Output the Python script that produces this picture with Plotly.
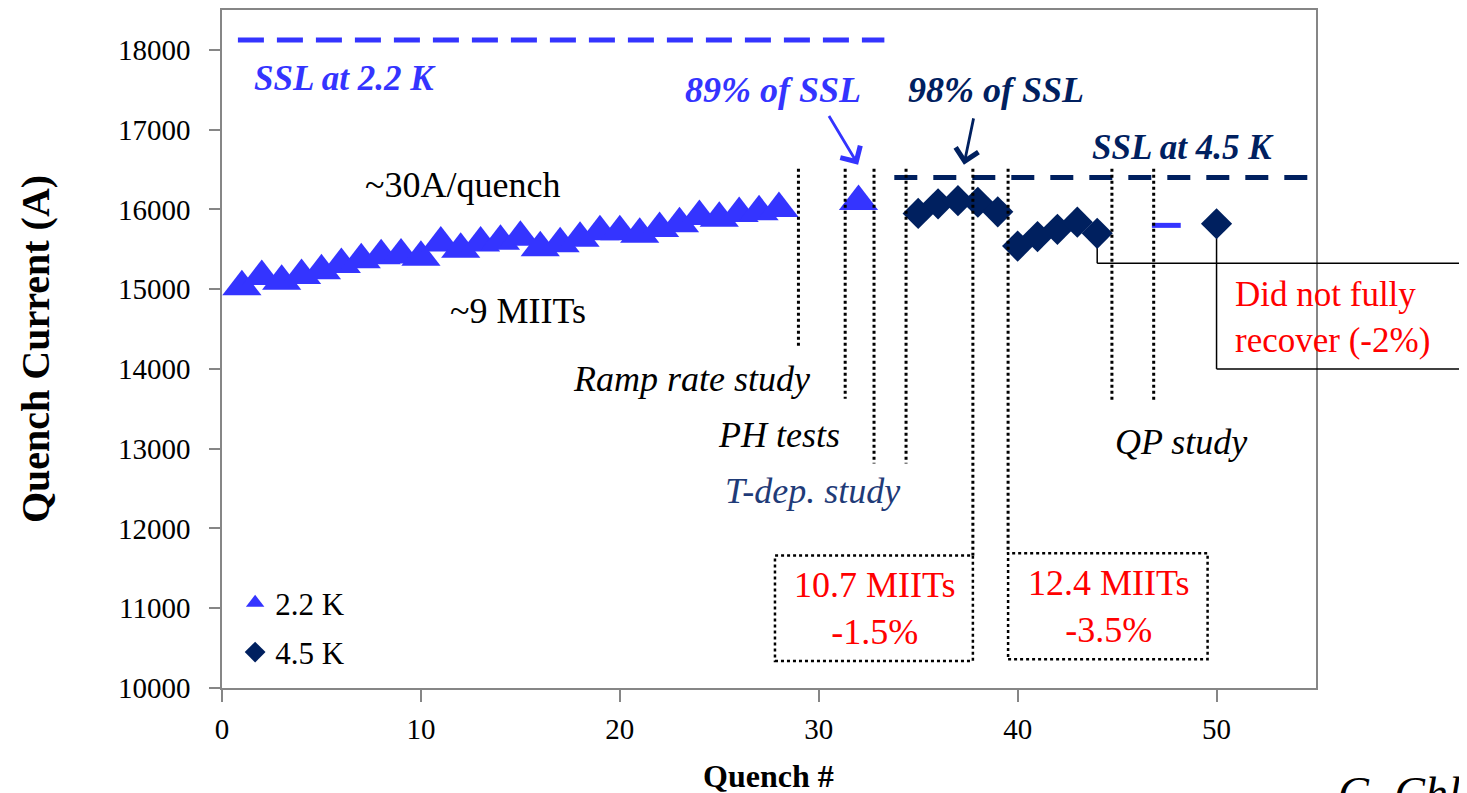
import plotly.graph_objects as go

# ---------------- data ----------------
quench_22 = list(range(1, 29)) + [32]
current_22 = [15030, 15160, 15100, 15170, 15230, 15310, 15370, 15420, 15430, 15400,
              15580, 15500, 15580, 15600, 15650, 15520, 15570, 15640, 15720, 15720,
              15690, 15760, 15820, 15910, 15890, 15950, 15970, 16010, 16100]

quench_45 = [35, 36, 37, 38, 39, 40, 41, 42, 43, 44, 50]
current_45 = [15950, 16070, 16110, 16090, 15970, 15540, 15660, 15750, 15840, 15700, 15820]

dash_x = [46.75, 48.2]
dash_y = [15800, 15800]

ssl_22 = 18125
ssl_22_x = [0.8, 33.3]
ssl_45 = 16400
ssl_45_x = [33.8, 55]

boundary_x = [28.98, 31.33, 32.78, 34.39, 37.75, 39.52, 44.74, 46.84]
boundary_top = 16510
boundary_bottom = [14260, 13625, 12815, 12815, 11660, 11690, 13600, 13600]

x_ticks = [0, 10, 20, 30, 40, 50]
y_ticks = [10000, 11000, 12000, 13000, 14000, 15000, 16000, 17000, 18000]

BLUE = "#3434FF"
NAVY = "#00205F"
TNAVY = "#1F3B78"
RED = "#FF0000"
FONT = "Liberation Serif"

XR = [0, 55]
YR = [10000, 18500]

# page-pixel helpers (the page has an 8px body margin)
PL, PR, PT, PB = 222, 1316, 8, 688


def px(x):
    return (x - XR[0]) / (XR[1] - XR[0])


def ppx(page_x):
    return (page_x - PL) / (PR - PL)


def ppy(page_y):
    return (PB - page_y) / (PB - PT)


fig = go.Figure()

fig.add_trace(go.Scatter(x=ssl_22_x, y=[ssl_22, ssl_22], mode="lines",
                         line=dict(color=BLUE, width=5, dash="26px,13px"),
                         showlegend=False, hoverinfo="skip"))
fig.add_trace(go.Scatter(x=ssl_45_x, y=[ssl_45, ssl_45], mode="lines",
                         line=dict(color=NAVY, width=5, dash="23px,16px"),
                         showlegend=False, hoverinfo="skip"))
fig.add_trace(go.Scatter(x=dash_x, y=dash_y, mode="lines",
                         line=dict(color=BLUE, width=5),
                         showlegend=False, hoverinfo="skip"))

fig.add_trace(go.Scatter(x=quench_22, y=current_22, mode="markers", name="2.2 K",
                         legendgroup="a",
                         marker=dict(symbol="triangle-up", size=34, color=BLUE)))
fig.add_trace(go.Scatter(x=quench_45, y=current_45, mode="markers", name="4.5 K",
                         legendgroup="b",
                         marker=dict(symbol="diamond", size=24, color=NAVY)))

shapes = []
for bx, bb in zip(boundary_x, boundary_bottom):
    shapes.append(dict(type="line", xref="x", yref="y", x0=bx, x1=bx,
                       y0=boundary_top, y1=bb,
                       line=dict(color="black", width=3, dash="dot")))

# dotted boxes
shapes.append(dict(type="rect", xref="x", yref="y", x0=27.8, x1=37.75, y0=10340, y1=11660,
                   line=dict(color="black", width=2.5, dash="dot")))
shapes.append(dict(type="rect", xref="x", yref="y", x0=39.52, x1=49.55, y0=10360, y1=11690,
                   line=dict(color="black", width=2.5, dash="dot")))

# callout for "Did not fully recover"
box_top = 15325
box_bot = 14000
shapes.append(dict(type="line", xref="x", yref="y", x0=44, x1=44, y0=current_45[9], y1=box_top,
                   line=dict(color="black", width=1.5), layer="below"))
shapes.append(dict(type="line", xref="x", yref="y", x0=50, x1=50, y0=current_45[10], y1=box_top,
                   line=dict(color="black", width=1.5), layer="below"))
shapes.append(dict(type="line", xref="paper", yref="y", x0=px(44), x1=1.2, y0=box_top, y1=box_top,
                   line=dict(color="black", width=1.5)))
shapes.append(dict(type="line", xref="paper", yref="y", x0=px(50), x1=px(50), y0=box_top, y1=box_bot,
                   line=dict(color="black", width=1.5)))
shapes.append(dict(type="line", xref="paper", yref="y", x0=px(50), x1=1.2, y0=box_bot, y1=box_bot,
                   line=dict(color="black", width=1.5)))

ann = []


def txt(x, y, t, size, color="black", bold=False, italic=False, xanchor="center", align="center",
        xref="x", yref="y"):
    s = t
    if bold:
        s = "<b>" + s + "</b>"
    if italic:
        s = "<i>" + s + "</i>"
    ann.append(dict(x=x, y=y, xref=xref, yref=yref, text=s, showarrow=False,
                    font=dict(family=FONT, size=size, color=color),
                    xanchor=xanchor, yanchor="middle", align=align))


txt(6.2, 17640, "SSL at 2.2 K", 35, BLUE, bold=True, italic=True)
txt(27.7, 17500, "89% of SSL", 36, BLUE, bold=True, italic=True)
txt(38.9, 17500, "98% of SSL", 36, NAVY, bold=True, italic=True)
txt(48.3, 16775, "SSL at 4.5 K", 35, NAVY, bold=True, italic=True)
txt(12.1, 16300, "~30A/quench", 36)
txt(14.9, 14730, "~9 MIITs", 36)
txt(23.6, 13870, "Ramp rate study", 36, italic=True)
txt(28.0, 13175, "PH tests", 36, italic=True)
txt(29.7, 12470, "T-dep. study", 36, TNAVY, italic=True)
txt(48.2, 13080, "QP study", 36, italic=True)
txt(32.8, 11000, "10.7 MIITs<br>-1.5%", 36, RED)
txt(44.55, 11020, "12.4 MIITs<br>-3.5%", 36, RED)
txt(ppx(1233), 14640, "Did not fully<br>recover (-2%)", 35, RED,
    xanchor="left", align="left", xref="paper")

# axis titles
ann.append(dict(x=ppx(35), y=0.5, xref="paper", yref="paper",
                text="<b>Quench Current (A)</b>", textangle=-90, showarrow=False,
                font=dict(family=FONT, size=40, color="black"),
                xanchor="center", yanchor="middle"))
ann.append(dict(x=ppx(768), y=ppy(776), xref="paper", yref="paper",
                text="<b>Quench #</b>", showarrow=False,
                font=dict(family=FONT, size=32, color="black"),
                xanchor="center", yanchor="middle"))
ann.append(dict(x=ppx(1336), y=ppy(766), xref="paper", yref="paper",
                text="<i>G. Chlachidze</i>", showarrow=False,
                font=dict(family=FONT, size=46, color="black"),
                xanchor="left", yanchor="top"))

# arrows
ann.append(dict(x=31.98, y=16560, ax=30.47, ay=17190, xref="x", yref="y", axref="x", ayref="y",
                text="", showarrow=True, arrowhead=4, arrowsize=1.6, arrowwidth=2.8,
                arrowcolor=BLUE))
ann.append(dict(x=37.3, y=16560, ax=37.8, ay=17160, xref="x", yref="y", axref="x", ayref="y",
                text="", showarrow=True, arrowhead=4, arrowsize=1.6, arrowwidth=2.8,
                arrowcolor=NAVY))

fig.update_layout(
    width=1459, height=785,
    margin=dict(l=PL - 8, r=1467 - PR, t=0, b=793 - PB),
    paper_bgcolor="white", plot_bgcolor="white",
    font=dict(family=FONT, color="black"),
    shapes=shapes, annotations=ann,
    legend=dict(x=0.012, y=0.165, xanchor="left", yanchor="top",
                font=dict(family=FONT, size=31, color="black"),
                bgcolor="rgba(0,0,0,0)", itemsizing="trace", tracegroupgap=6),
    showlegend=True,
)
fig.update_xaxes(range=XR, tickvals=x_ticks, ticks="outside", ticklen=12, tickwidth=1.5,
                 tickcolor="#868686", showline=True, linecolor="#868686", linewidth=1.5,
                 mirror=True, showgrid=False, zeroline=False,
                 tickfont=dict(family=FONT, size=29, color="black"), ticklabelstandoff=2)
fig.update_yaxes(range=YR, tickvals=y_ticks, tickformat="d", ticks="outside", ticklen=11,
                 tickwidth=1.5, tickcolor="#868686", showline=True, linecolor="#868686",
                 linewidth=1.5, mirror=True, showgrid=False, zeroline=False,
                 tickfont=dict(family=FONT, size=29, color="black"), ticklabelstandoff=13)

fig.write_html("out.html")
